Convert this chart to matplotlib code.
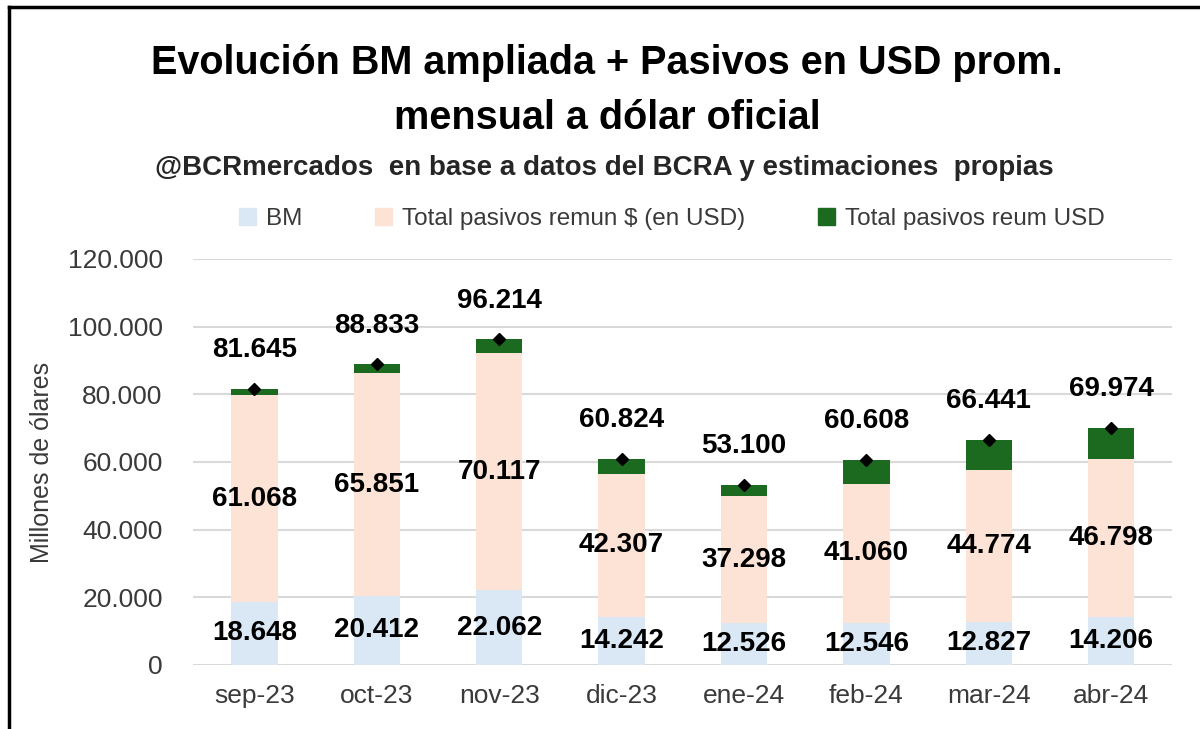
import matplotlib.pyplot as plt
from matplotlib.lines import Line2D
from matplotlib.patches import Patch

meses = ['sep-23', 'oct-23', 'nov-23', 'dic-23', 'ene-24', 'feb-24', 'mar-24', 'abr-24']
bm = [18648, 20412, 22062, 14242, 12526, 12546, 12827, 14206]
pasivos_pesos = [61068, 65851, 70117, 42307, 37298, 41060, 44774, 46798]
pasivos_usd = [1929, 2570, 4035, 4275, 3276, 7002, 8840, 8970]
totales = [81645, 88833, 96214, 60824, 53100, 60608, 66441, 69974]

c_bm = '#DAE8F5'
c_pesos = '#FCE3D6'
c_usd = '#1B6A1F'

plt.rcParams['font.family'] = ['Liberation Sans', 'DejaVu Sans']

def fmt(v):
    return f'{v:,}'.replace(',', '.')

fig = plt.figure(figsize=(12, 7.29), dpi=100)
ax = fig.add_axes([0.161, 0.0878, 0.816, 0.557])

x = range(len(meses))
w = 0.38
bottom2 = [a + b for a, b in zip(bm, pasivos_pesos)]
ax.bar(x, bm, width=w, color=c_bm, zorder=2)
ax.bar(x, pasivos_pesos, width=w, bottom=bm, color=c_pesos, zorder=2)
ax.bar(x, pasivos_usd, width=w, bottom=bottom2, color=c_usd, zorder=2)
ax.plot(x, totales, 'D', color='black', markersize=6, linestyle='none', zorder=3)

for i in x:
    ax.text(i, bm[i] / 2, fmt(bm[i]), ha='center', va='center',
            fontsize=20, fontweight='bold', zorder=4)
    ax.text(i, bm[i] + pasivos_pesos[i] / 2, fmt(pasivos_pesos[i]), ha='center',
            va='center', fontsize=20, fontweight='bold', zorder=4)
    ax.annotate(fmt(totales[i]), (i, totales[i]), xytext=(0, 28),
                textcoords='offset points', ha='center', va='center',
                fontsize=20, fontweight='bold', zorder=4)

ax.set_xlim(-0.5, 7.5)
ax.set_ylim(0, 120000)
ax.set_yticks(range(0, 120001, 20000))
ax.set_yticklabels([fmt(v) for v in range(0, 120001, 20000)])
ax.set_xticks(list(x))
ax.set_xticklabels(meses)
ax.tick_params(axis='both', length=0, labelsize=19, labelcolor='#3A3A3A')
ax.tick_params(axis='x', pad=14)
ax.tick_params(axis='y', pad=22)
ax.grid(axis='y', color='#D9D9D9', linewidth=1.5, zorder=0)
for s in ax.spines.values():
    s.set_visible(False)
ax.set_ylabel('Millones de ólares', fontsize=18, color='#3A3A3A', labelpad=10)

fig.text(0.506, 0.913, 'Evolución BM ampliada + Pasivos en USD prom.', ha='center',
         va='center', fontsize=28.5, fontweight='bold')
fig.text(0.506, 0.838, 'mensual a dólar oficial', ha='center', va='center',
         fontsize=28.5, fontweight='bold')
fig.text(0.504, 0.769, '@BCRmercados  en base a datos del BCRA y estimaciones  propias',
         ha='center', va='center', fontsize=20, fontweight='bold', color='#262626')

handles = [Patch(color=c_bm), Patch(color=c_pesos), Patch(color=c_usd)]
fig.legend(handles, ['BM', 'Total pasivos remun $ (en USD)', 'Total pasivos reum USD'],
           loc='center', bbox_to_anchor=(0.56, 0.70), ncol=3, frameon=False,
           fontsize=17.5, labelcolor='#3A3A3A', handlelength=0.7, handleheight=0.7,
           handletextpad=0.4, columnspacing=3.0)

fig.add_artist(Line2D([0.0075, 0.0075], [0, 0.99], transform=fig.transFigure,
                      color='black', linewidth=2.5))
fig.add_artist(Line2D([0.0075, 1], [0.99, 0.99], transform=fig.transFigure,
                      color='black', linewidth=2.5))

fig.savefig('out.png')
